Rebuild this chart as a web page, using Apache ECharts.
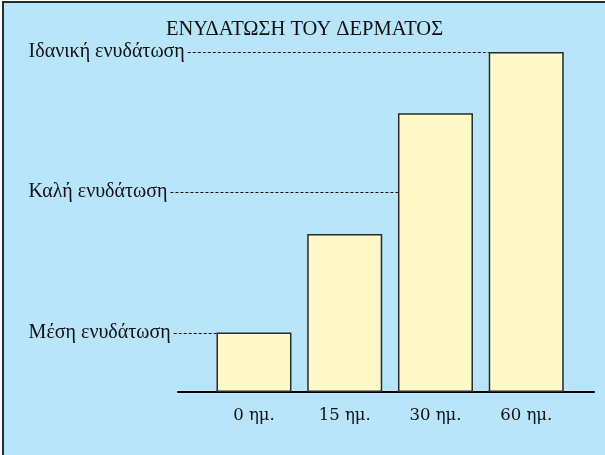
<!DOCTYPE html>
<html>
<head>
<meta charset="utf-8">
<title>ΕΝΥΔΑΤΩΣΗ ΤΟΥ ΔΕΡΜΑΤΟΣ</title>
<script src="https://cdn.jsdelivr.net/npm/echarts@6/dist/echarts.min.js"></script>
<style>
body { margin: 0; background: #fff; }
#chart {
    margin: 1px 0 0 2px;
    width: 601px;
    height: 452px;
    border-top: 2px solid #2b2b2b;
    border-left: 2px solid #2b2b2b;
    background: #b8e5fa;
}
</style>
</head>
<body>
<div id="chart"></div>
<script>
// δεδομένα
var categories = ['0 ημ.', '15 ημ.', '30 ημ.', '60 ημ.']
var hydration = [17.5, 46.5, 82, 100]
var levelNames = ['Μέση ενυδάτωση', 'Καλή ενυδάτωση', 'Ιδανική ενυδάτωση']
var levelValues = [17.5, 58.8, 100]

var gridLeft = 204.6
var labelMargin = 180
var barWidth = 75
var labelFont = '20px "Liberation Serif"'

var chart = echarts.init(document.getElementById('chart'))

var option = {
    animation: false,
    title: {
        text: 'ΕΝΥΔΑΤΩΣΗ ΤΟΥ ΔΕΡΜΑΤΟΣ',
        left: 'center',
        top: 11,
        textStyle: {
            fontFamily: 'Liberation Serif',
            fontSize: 20.5,
            fontWeight: 'normal',
            color: '#111'
        }
    },
    grid: [
        { left: gridLeft, right: 33.4, top: 49, bottom: 63 },
        { left: 174, right: 11, top: 49, bottom: 63 } // μόνο για τη γραμμή βάσης
    ],
    xAxis: [
        {
            type: 'category',
            gridIndex: 0,
            data: categories,
            axisLine: { show: false },
            axisTick: { show: false },
            axisLabel: {
                margin: 15,
                color: '#111',
                fontFamily: 'DejaVu Serif',
                fontSize: 16.5
            }
        },
        {
            type: 'category',
            gridIndex: 1,
            data: categories,
            axisLine: { show: true, lineStyle: { color: '#000', width: 2 } },
            axisTick: { show: false },
            axisLabel: { show: false }
        }
    ],
    yAxis: [
        {
            type: 'value',
            gridIndex: 0,
            min: 0,
            max: 100,
            axisLine: { show: false },
            axisTick: { show: false },
            splitLine: { show: false },
            axisLabel: {
                customValues: levelValues,
                align: 'left',
                margin: labelMargin,
                color: '#111',
                fontFamily: 'Liberation Serif',
                fontSize: 20,
                formatter: function (v) {
                    var i = levelValues.indexOf(v)
                    return i >= 0 ? levelNames[i] : ''
                }
            }
        },
        {
            type: 'value',
            gridIndex: 1,
            min: 0,
            max: 100,
            show: false
        }
    ],
    series: [
        {
            type: 'bar',
            xAxisIndex: 0,
            yAxisIndex: 0,
            data: hydration,
            barWidth: barWidth,
            z: 3,
            itemStyle: {
                color: '#fff8c9',
                borderColor: '#2a2a2a',
                borderWidth: 1.5
            }
        }
    ]
}
chart.setOption(option)

// διακεκομμένες γραμμές από την ετικέτα ως την πρώτη μπάρα που φτάνει το επίπεδο
var ctx = document.createElement('canvas').getContext('2d')
ctx.font = labelFont
var labelLeft = gridLeft - labelMargin
var lines = levelValues.map(function (v, i) {
    var k = hydration.findIndex(function (h) { return h >= v })
    var end = chart.convertToPixel({ seriesIndex: 0 }, [k, v])
    var y = Math.round(end[1]) + 0.5
    var startX = labelLeft + ctx.measureText(levelNames[i]).width + 3
    return {
        type: 'line',
        z: 1,
        shape: { x1: startX, y1: y, x2: end[0] - barWidth / 2, y2: y },
        style: { stroke: '#111', lineWidth: 1, lineDash: [3, 2] }
    }
})
chart.setOption({ graphic: lines })
</script>
</body>
</html>
